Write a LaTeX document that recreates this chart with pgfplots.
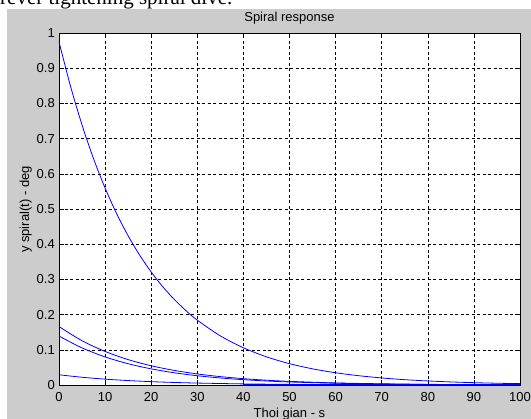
\documentclass[border=0pt]{standalone}
\usepackage{pgfplots}
\pgfplotsset{compat=1.18}
\usepackage{fontspec}
\setmainfont{Liberation Sans}
\newfontfamily\timesfont{Liberation Serif}
\definecolor{figgray}{RGB}{204,204,204}
\definecolor{mblue}{RGB}{0,0,255}
\begin{document}
\begin{tikzpicture}[x=1pt,y=1pt]
\useasboundingbox (0,0) rectangle (531,419);
\fill[white] (0,0) rectangle (531,419);
\fill[figgray] (7,0) rectangle (531,410);
\begin{scope}
\clip (0,0) rectangle (531,419);
\node[anchor=base west, inner sep=0, font=\timesfont\fontsize{21}{24}\selectfont] at (0,414.5) {rever tightening spiral dive.};
\end{scope}
\begin{axis}[
  at={(59pt,34pt)}, anchor=south west,
  scale only axis, width=461pt, height=352pt,
  xmin=0, xmax=100, ymin=0, ymax=1,
  xtick={0,10,20,30,40,50,60,70,80,90,100},
  xticklabels={0,10,20,30,40,50,60,70,80,90,100},
  ytick={0,0.1,0.2,0.3,0.4,0.5,0.6,0.7,0.8,0.9,1},
  yticklabels={0,0.1,0.2,0.3,0.4,0.5,0.6,0.7,0.8,0.9,1},
  /pgf/number format/assume math mode=true,
  ticklabel style={font=\fontsize{13}{15}\selectfont, inner sep=0pt},
  xticklabel style={anchor=north, yshift=-7pt},
  yticklabel style={anchor=east, xshift=-4pt},
  grid=major,
  major grid style={dash pattern=on 3pt off 2.5pt, black, line width=0.5pt},
  axis background/.style={fill=white},
  tick align=inside, major tick length=5pt,
  tick style={black, line width=0.5pt},
  axis line style={black, line width=0.6pt},
  clip=false,
]
\addplot[mblue, no marks, line width=0.8pt, smooth] coordinates {(0,0.975)(2.5,0.8486)(5,0.7386)(7.5,0.6427)(10,0.5594)(12.5,0.4869)(15,0.4237)(17.5,0.3688)(20,0.3210)(22.5,0.2793)(25,0.2432)(27.5,0.2116)(30,0.1842)(35,0.1395)(40,0.1057)(45,0.0800)(50,0.0606)(55,0.0459)(60,0.0348)(65,0.0264)(70,0.0200)(75,0.0151)(80,0.0115)(85,0.0087)(90,0.0066)(95,0.0050)(100,0.0038)};
\addplot[mblue, no marks, line width=0.8pt, smooth] coordinates {(0,0.166)(5,0.1257)(10,0.0953)(15,0.0721)(20,0.0546)(25,0.0414)(30,0.0314)(35,0.0238)(40,0.0180)(45,0.0136)(50,0.0103)(60,0.0059)(70,0.0034)(80,0.0019)(90,0.0011)(100,0.0006)};
\addplot[mblue, no marks, line width=0.8pt, smooth] coordinates {(0,0.139)(5,0.1053)(10,0.0798)(15,0.0604)(20,0.0458)(25,0.0347)(30,0.0263)(35,0.0199)(40,0.0151)(45,0.0114)(50,0.0086)(60,0.0050)(70,0.0028)(80,0.0016)(90,0.0009)(100,0.0005)};
\addplot[mblue, no marks, line width=0.8pt, smooth] coordinates {(0,0.029)(5,0.0220)(10,0.0166)(15,0.0126)(20,0.0095)(25,0.0072)(30,0.0055)(40,0.0031)(50,0.0018)(60,0.0010)(70,0.0006)(80,0.0003)(100,0.0001)};
\addplot[mblue, no marks, line width=1.2pt] coordinates {(40,0.001)(100,0.001)};
\end{axis}
\node[anchor=base, font=\fontsize{13}{15}\selectfont] at (289.5,397) {Spiral response};
\node[anchor=base, font=\fontsize{13}{15}\selectfont] at (289.5,1.5) {Thoi gian - s};
\node[anchor=base, rotate=90, font=\fontsize{13}{15}\selectfont] at (29,209.5) {y spiral(t) - deg};
\end{tikzpicture}
\end{document}
